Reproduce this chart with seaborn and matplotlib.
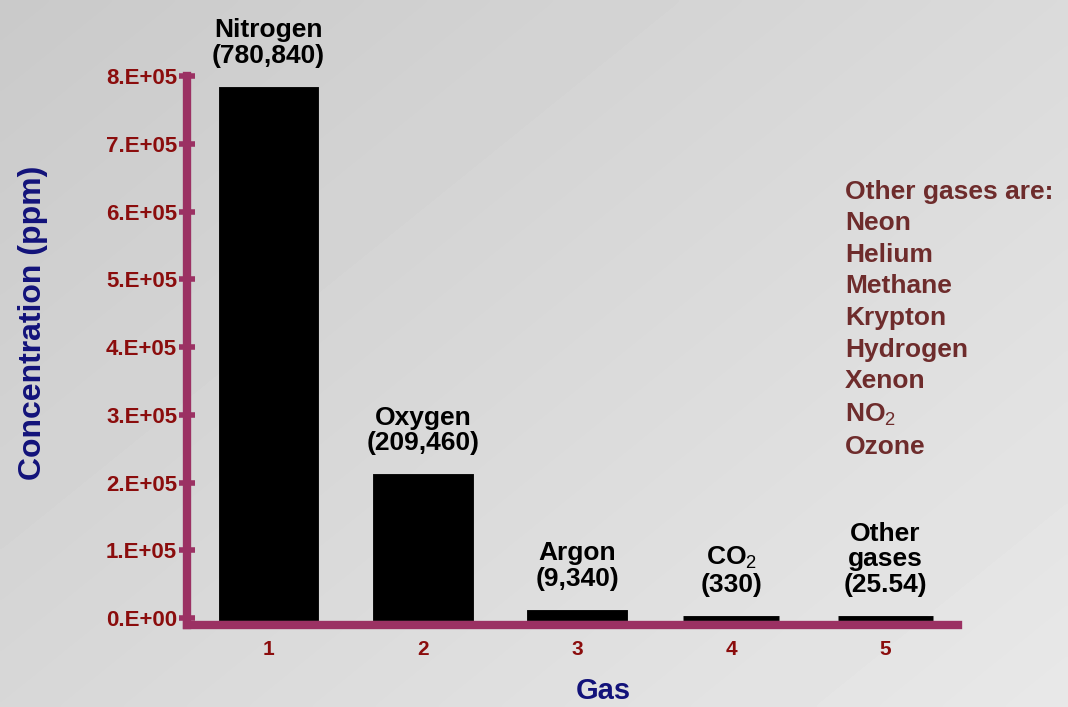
import numpy as np
import pandas as pd
import matplotlib
matplotlib.use("Agg")
import matplotlib.pyplot as plt
import seaborn as sns

# Composition of dry air
gas_ids = ["1", "2", "3", "4", "5"]
gas_names = ["Nitrogen", "Oxygen", "Argon", "CO$_2$", "Other\ngases"]
concentration_ppm = [780840, 209460, 9340, 330, 25.54]
y_ticks = [0, 100000, 200000, 300000, 400000, 500000, 600000, 700000, 800000]
y_tick_labels = ["0.E+00", "1.E+05", "2.E+05", "3.E+05", "4.E+05",
                 "5.E+05", "6.E+05", "7.E+05", "8.E+05"]
other_gases = ["Neon", "Helium", "Methane", "Krypton", "Hydrogen",
               "Xenon", "NO$_2$", "Ozone"]

AXIS_COLOR = "#9b3163"
TICK_COLOR = "#8b0d0d"
TITLE_COLOR = "#12127a"
NOTE_COLOR = "#6e2c2c"

sns.set_theme(style="white")
plt.rcParams["font.family"] = ["Liberation Sans", "DejaVu Sans"]
plt.rcParams["mathtext.fontset"] = "custom"
plt.rcParams["mathtext.rm"] = "Liberation Sans"
plt.rcParams["mathtext.bf"] = "Liberation Sans:bold"

fig = plt.figure(figsize=(10.68, 7.07), dpi=100)

# soft grey backdrop, darker toward the upper left
bg = fig.add_axes([0, 0, 1, 1], zorder=-10)
gx, gy = np.meshgrid(np.linspace(0, 1, 300), np.linspace(0, 1, 200))
shade = 0.79 + 0.12 * np.clip(0.55 * gx + 0.45 * gy, 0, 1)
bg.imshow(shade, cmap="gray", vmin=0, vmax=1, aspect="auto",
          extent=[0, 1, 1, 0], interpolation="bicubic")
bg.set_axis_off()

ax = fig.add_axes([0.175, 0.116, 0.722, 0.7765])
ax.patch.set_alpha(0)

df = pd.DataFrame({"gas": gas_ids, "ppm": concentration_ppm})
sns.barplot(data=df, x="gas", y="ppm", color="black", width=0.62,
            edgecolor="black", linewidth=3.5, saturation=1, ax=ax)

ax.set_xlim(-0.53, 4.47)
ax.set_ylim(-10000, 800000)
ax.set_yticks(y_ticks)
ax.set_yticklabels(y_tick_labels)

for side in ("top", "right"):
    ax.spines[side].set_visible(False)
for side in ("left", "bottom"):
    ax.spines[side].set_color(AXIS_COLOR)
    ax.spines[side].set_linewidth(6)

ax.tick_params(axis="y", left=True, direction="inout", length=12, width=4,
               color=AXIS_COLOR, labelcolor=TICK_COLOR, labelsize=16, pad=1)
ax.tick_params(axis="x", bottom=False, length=0, labelcolor=TICK_COLOR,
               labelsize=15, pad=11)
for lab in ax.get_xticklabels() + ax.get_yticklabels():
    lab.set_fontweight("bold")

ax.set_xlabel("Gas", color=TITLE_COLOR, fontsize=21, fontweight="bold")
ax.xaxis.set_label_coords(0.54, -0.095)
ax.set_ylabel("Concentration (ppm)", color=TITLE_COLOR, fontsize=23,
              fontweight="bold")
ax.yaxis.set_label_coords(-0.18, 0.55)

# value labels above each bar
for i, (name, val) in enumerate(zip(gas_names, concentration_ppm)):
    num = f"{val:,}" if isinstance(val, int) else f"{val}"
    ax.annotate(f"{name}\n({num})", xy=(i, val), xytext=(0, 15),
                textcoords="offset points", ha="center", va="bottom",
                multialignment="center", fontsize=19, fontweight="bold",
                color="black", linespacing=1.1)

note = "Other gases are:\n" + "\n".join(other_gases)
fig.text(0.791, 0.746, note, ha="left", va="top", fontsize=19,
         fontweight="bold", color=NOTE_COLOR, linespacing=1.4)

fig.savefig("out.png", dpi=100)
